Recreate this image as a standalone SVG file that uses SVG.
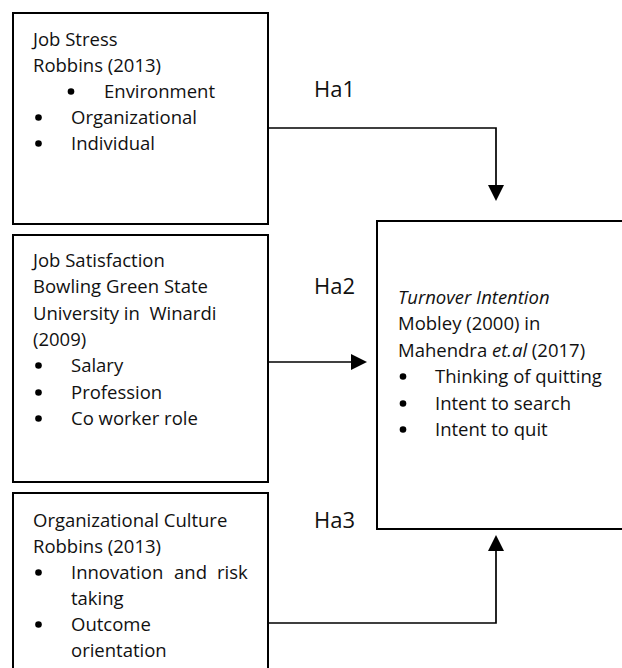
<svg xmlns="http://www.w3.org/2000/svg" width="622" height="668" viewBox="0 0 622 668">
<defs>
<style>
.box{fill:#fff;stroke:#000;stroke-width:2}
.t{font-family:"Open Sans","Noto Sans","Liberation Sans",sans-serif;font-size:18.5px;fill:#111}
.h{font-family:"Open Sans","Noto Sans","Liberation Sans",sans-serif;font-size:22px;fill:#111}
.i{font-style:italic}
.b{fill:#000}
.c{fill:none;stroke:#000;stroke-width:1.7}
</style>
<marker id="ah" viewBox="0 0 16 16" refX="14" refY="8" markerWidth="16" markerHeight="16" markerUnits="userSpaceOnUse" orient="auto">
<path d="M0,0 L16,8 L0,16 Z" fill="#000"/>
</marker>
</defs>
<rect width="622" height="668" fill="#fff"/>
<g id="connectors">
<path class="c" d="M268,128 H496 V199" marker-end="url(#ah)"/>
<path class="c" d="M268,362 H365" marker-end="url(#ah)"/>
<path class="c" d="M268,623 H496 V537" marker-end="url(#ah)"/>
</g>
<g id="job-stress">
<rect class="box" x="13" y="13" width="255" height="211"/>
<text class="t" x="33" y="46">Job Stress</text>
<text class="t" x="33" y="72">Robbins (2013)</text>
<circle class="b" cx="71" cy="91.5" r="3.3"/>
<text class="t" x="104" y="98">Environment</text>
<circle class="b" cx="38.5" cy="117.5" r="3.3"/>
<text class="t" x="71" y="124">Organizational</text>
<circle class="b" cx="38.5" cy="143.5" r="3.3"/>
<text class="t" x="71" y="150">Individual</text>
</g>
<g id="job-satisfaction">
<rect class="box" x="13" y="235" width="255" height="247"/>
<text class="t" x="33" y="267">Job Satisfaction</text>
<text class="t" x="33" y="293">Bowling Green State</text>
<text class="t" x="33" y="320" style="white-space:pre">University in  Winardi</text>
<text class="t" x="33" y="346">(2009)</text>
<circle class="b" cx="38.5" cy="365.5" r="3.3"/>
<text class="t" x="71" y="372">Salary</text>
<circle class="b" cx="38.5" cy="392.5" r="3.3"/>
<text class="t" x="71" y="399">Profession</text>
<circle class="b" cx="38.5" cy="418.5" r="3.3"/>
<text class="t" x="71" y="425">Co worker role</text>
</g>
<g id="organizational-culture">
<rect class="box" x="13" y="493" width="255" height="200"/>
<text class="t" x="33" y="527">Organizational Culture</text>
<text class="t" x="33" y="553">Robbins (2013)</text>
<circle class="b" cx="38.5" cy="572.5" r="3.3"/>
<text class="t" y="579"><tspan x="71">Innovation</tspan><tspan x="174">and</tspan><tspan x="217">risk</tspan></text>
<text class="t" x="71" y="605">taking</text>
<circle class="b" cx="38.5" cy="624.5" r="3.3"/>
<text class="t" x="71" y="631">Outcome</text>
<text class="t" x="71" y="657">orientation</text>
</g>
<g id="turnover-intention">
<rect class="box" x="377" y="221" width="260" height="308"/>
<text class="t i" x="398" y="304">Turnover Intention</text>
<text class="t" x="398" y="330">Mobley (2000) in</text>
<text class="t" x="398" y="357">Mahendra <tspan class="i">et.al</tspan> (2017)</text>
<circle class="b" cx="403" cy="376.5" r="3.3"/>
<text class="t" x="435" y="383">Thinking of quitting</text>
<circle class="b" cx="403" cy="403.5" r="3.3"/>
<text class="t" x="435" y="410">Intent to search</text>
<circle class="b" cx="403" cy="429.5" r="3.3"/>
<text class="t" x="435" y="436">Intent to quit</text>
</g>
<g id="labels">
<text class="h" x="314" y="97">Ha1</text>
<text class="h" x="314" y="294">Ha2</text>
<text class="h" x="314" y="528">Ha3</text>
</g>
</svg>
